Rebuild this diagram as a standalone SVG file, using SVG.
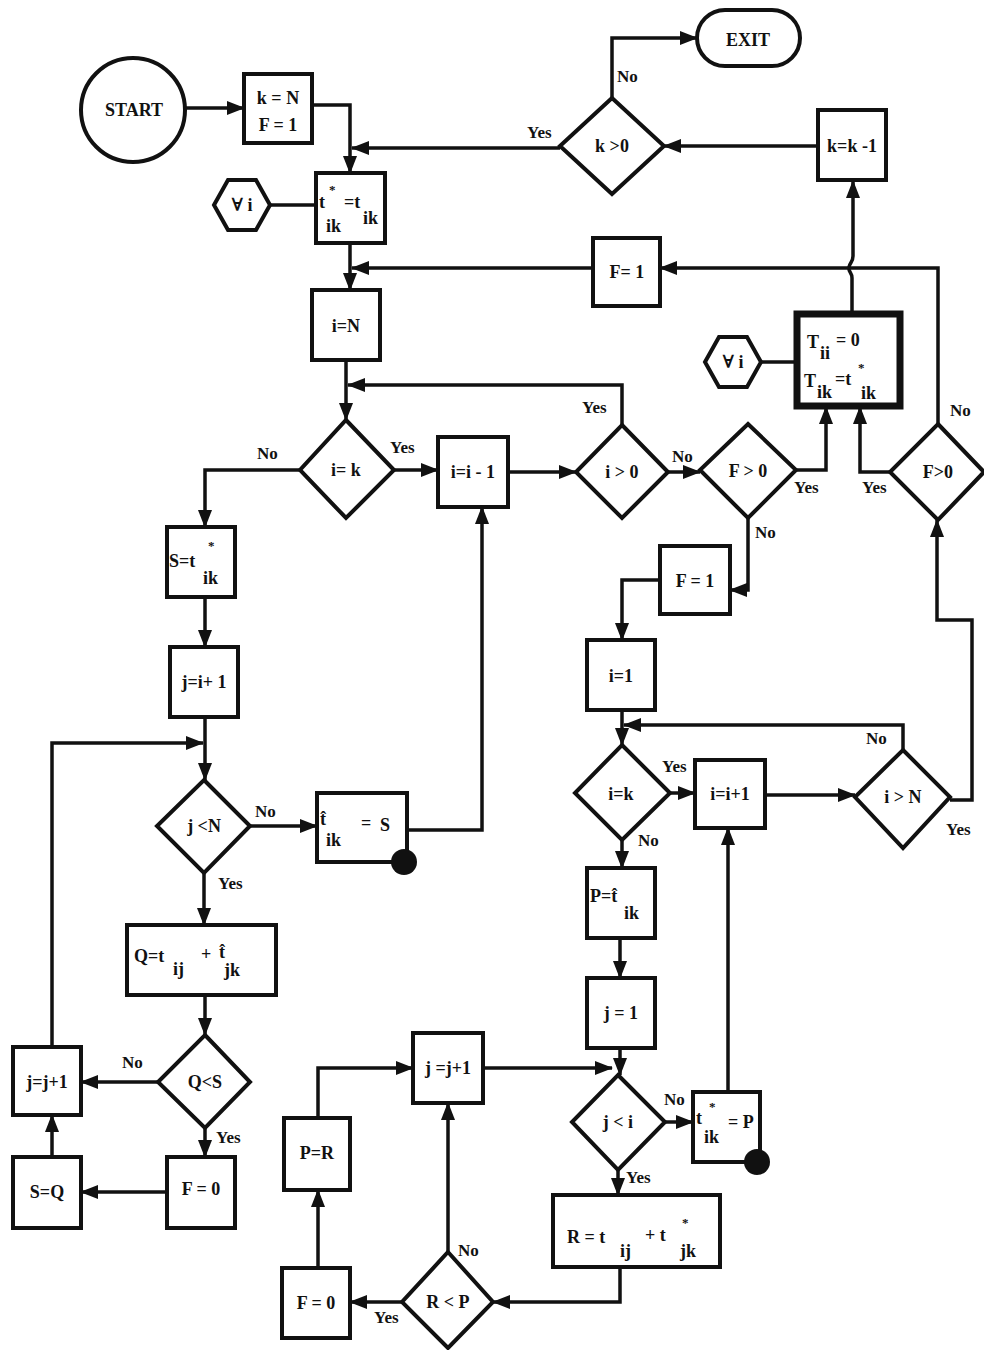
<svg xmlns="http://www.w3.org/2000/svg" width="984" height="1350" viewBox="0 0 984 1350">
<style>
.b{fill:#fff;stroke:#111;stroke-width:4}
.bt{fill:#fff;stroke:#111;stroke-width:7}
.c{fill:none;stroke:#111;stroke-width:3.5}
.h{fill:#fff;stroke:#111;stroke-width:4}
.t{font-family:"Liberation Serif","DejaVu Serif",serif;font-weight:bold;font-size:18px;fill:#111}
.m{text-anchor:middle}
.s{font-size:13px}
.l{font-family:"Liberation Serif","DejaVu Serif",serif;font-weight:bold;font-size:17px;fill:#111}
</style>
<defs>
<marker id="a" markerWidth="18" markerHeight="14" refX="17" refY="7" orient="auto" markerUnits="userSpaceOnUse"><path d="M0,0 L18,7 L0,14 z" fill="#111"/></marker>
</defs>
<rect width="984" height="1350" fill="#fff"/>
<g id="connectors">
<path class="c" d="M185,108 H244" marker-end="url(#a)"/>
<path class="c" d="M312,105 H350 V173" marker-end="url(#a)"/>
<path class="c" d="M560,148 H352" marker-end="url(#a)"/>
<path class="c" d="M612,98 V38 H697" marker-end="url(#a)"/>
<path class="c" d="M818,146 H664" marker-end="url(#a)"/>
<path class="c" d="M852,313 V278 C852,272 848,272 849,267 C850,262 853,262 853,256 V181" marker-end="url(#a)"/>
<path class="c" d="M938,424 V268 H660" marker-end="url(#a)"/>
<path class="c" d="M593,268 H352" marker-end="url(#a)"/>
<path class="c" d="M350,243 V290" marker-end="url(#a)"/>
<path class="c" d="M346,360 V420" marker-end="url(#a)"/>
<path class="c" d="M622,425 V385 H348" marker-end="url(#a)"/>
<path class="c" d="M300,470 H205 V527" marker-end="url(#a)"/>
<path class="c" d="M394,470 H438" marker-end="url(#a)"/>
<path class="c" d="M508,472 H576" marker-end="url(#a)"/>
<path class="c" d="M668,472 H700" marker-end="url(#a)"/>
<path class="c" d="M796,470 H826 V407" marker-end="url(#a)"/>
<path class="c" d="M748,518 V590 H730" marker-end="url(#a)"/>
<path class="c" d="M660,580 H622 V640" marker-end="url(#a)"/>
<path class="c" d="M622,710 V745" marker-end="url(#a)"/>
<path class="c" d="M903,750 V725 H624" marker-end="url(#a)"/>
<path class="c" d="M670,793 H695" marker-end="url(#a)"/>
<path class="c" d="M622,840 V868" marker-end="url(#a)"/>
<path class="c" d="M765,795 H855" marker-end="url(#a)"/>
<path class="c" d="M950,800 H972 V620 H937 V520" marker-end="url(#a)"/>
<path class="c" d="M890,472 H860 V407" marker-end="url(#a)"/>
<path class="c" d="M205,597 V647" marker-end="url(#a)"/>
<path class="c" d="M205,717 V780" marker-end="url(#a)"/>
<path class="c" d="M52,1047 V743 H203" marker-end="url(#a)"/>
<path class="c" d="M250,826 H317" marker-end="url(#a)"/>
<path class="c" d="M407,830 H482 V507" marker-end="url(#a)"/>
<path class="c" d="M204,873 V925" marker-end="url(#a)"/>
<path class="c" d="M205,995 V1035" marker-end="url(#a)"/>
<path class="c" d="M158,1082 H81" marker-end="url(#a)"/>
<path class="c" d="M205,1128 V1157" marker-end="url(#a)"/>
<path class="c" d="M167,1192 H81" marker-end="url(#a)"/>
<path class="c" d="M52,1157 V1115" marker-end="url(#a)"/>
<path class="c" d="M620,938 V978" marker-end="url(#a)"/>
<path class="c" d="M620,1048 V1075" marker-end="url(#a)"/>
<path class="c" d="M483,1068 H612" marker-end="url(#a)"/>
<path class="c" d="M665,1122 H693" marker-end="url(#a)"/>
<path class="c" d="M728,1092 V828" marker-end="url(#a)"/>
<path class="c" d="M618,1170 V1195" marker-end="url(#a)"/>
<path class="c" d="M620,1267 V1302 H493" marker-end="url(#a)"/>
<path class="c" d="M402,1302 H350" marker-end="url(#a)"/>
<path class="c" d="M318,1268 V1190" marker-end="url(#a)"/>
<path class="c" d="M318,1118 V1068 H413" marker-end="url(#a)"/>
<path class="c" d="M448,1252 V1103" marker-end="url(#a)"/>
<path class="c" d="M270,205 H316"/>
<path class="c" d="M761,362 H797"/>
</g>
<g id="labels">
<text class="l" x="527" y="138">Yes</text>
<text class="l" x="617" y="82">No</text>
<text class="l" x="257" y="459">No</text>
<text class="l" x="390" y="453">Yes</text>
<text class="l" x="582" y="413">Yes</text>
<text class="l" x="672" y="462">No</text>
<text class="l" x="794" y="493">Yes</text>
<text class="l" x="755" y="538">No</text>
<text class="l" x="862" y="493">Yes</text>
<text class="l" x="950" y="416">No</text>
<text class="l" x="866" y="744">No</text>
<text class="l" x="946" y="835">Yes</text>
<text class="l" x="662" y="772">Yes</text>
<text class="l" x="638" y="846">No</text>
<text class="l" x="255" y="817">No</text>
<text class="l" x="218" y="889">Yes</text>
<text class="l" x="122" y="1068">No</text>
<text class="l" x="216" y="1143">Yes</text>
<text class="l" x="664" y="1105">No</text>
<text class="l" x="626" y="1183">Yes</text>
<text class="l" x="458" y="1256">No</text>
<text class="l" x="374" y="1323">Yes</text>
</g>
<g id="start"><circle class="b" cx="133" cy="110" r="52"/><text class="t m" x="134" y="116">START</text></g>
<g id="init"><rect class="b" x="244" y="74" width="68" height="69"/><text class="t m" x="278" y="104">k = N</text><text class="t m" x="278" y="131">F = 1</text></g>
<g id="exit"><rect class="b" x="697" y="10" width="103" height="56" rx="28"/><text class="t m" x="748" y="46">EXIT</text></g>
<g id="kgt0"><polygon class="b" points="612,98 664,146 612,194 560,146"/><text class="t m" x="612" y="152">k &gt;0</text></g>
<g id="kdec"><rect class="b" x="818" y="110" width="68" height="70"/><text class="t m" x="852" y="152">k=k -1</text></g>
<g id="hex1"><polygon class="h" points="214,205 228,180 256,180 270,205 256,230 228,230"/><text class="t m" x="242" y="211">∀ i</text></g>
<g id="tstar"><rect class="b" x="316" y="173" width="69" height="70"/><text class="t" x="319" y="208">t</text><text class="t s" x="329" y="194">*</text><text class="t" x="344" y="208">=t</text><text class="t" x="326" y="232">ik</text><text class="t" x="363" y="224">ik</text></g>
<g id="f1a"><rect class="b" x="593" y="238" width="67" height="68"/><text class="t m" x="627" y="278">F= 1</text></g>
<g id="iN"><rect class="b" x="312" y="290" width="68" height="70"/><text class="t m" x="346" y="332">i=N</text></g>
<g id="hex2"><polygon class="h" points="705,362 719,337 747,337 761,362 747,387 719,387"/><text class="t m" x="733" y="368">∀ i</text></g>
<g id="tbox"><rect class="bt" x="797" y="314" width="103" height="92"/><text class="t" x="807" y="348">T</text><text class="t" x="820" y="359">ii</text><text class="t" x="836" y="346">= 0</text><text class="t" x="804" y="387">T</text><text class="t" x="817" y="398">ik</text><text class="t" x="835" y="385">=t</text><text class="t s" x="858" y="372">*</text><text class="t" x="861" y="399">ik</text></g>
<g id="ieqk"><polygon class="b" points="346,420 394,470 346,518 300,470"/><text class="t m" x="346" y="476">i=  k</text></g>
<g id="idec"><rect class="b" x="438" y="437" width="70" height="70"/><text class="t m" x="473" y="478">i=i - 1</text></g>
<g id="igt0"><polygon class="b" points="622,425 668,472 622,518 576,472"/><text class="t m" x="622" y="478">i &gt; 0</text></g>
<g id="fgt0a"><polygon class="b" points="748,424 796,470 748,518 700,470"/><text class="t m" x="748" y="477">F &gt; 0</text></g>
<g id="fgt0b"><polygon class="b" points="938,424 984,472 938,520 890,472"/><text class="t m" x="938" y="478">F&gt;0</text></g>
<g id="sbox"><rect class="b" x="167" y="527" width="68" height="70"/><text class="t" x="169" y="567">S=t</text><text class="t s" x="208" y="550">*</text><text class="t" x="203" y="584">ik</text></g>
<g id="ji1"><rect class="b" x="170" y="647" width="68" height="70"/><text class="t m" x="204" y="688">j=i+ 1</text></g>
<g id="jltN"><polygon class="b" points="204,780 250,826 204,873 157,826"/><text class="t m" x="204" y="832">j &lt;N</text></g>
<g id="that"><rect class="b" x="317" y="793" width="90" height="69"/><text class="t" x="320" y="825">t&#x302;</text><text class="t" x="326" y="846">ik</text><text class="t" x="361" y="829">=</text><text class="t" x="380" y="831">S</text><circle cx="404" cy="862" r="13" fill="#111"/></g>
<g id="qbox"><rect class="b" x="127" y="925" width="149" height="70"/><text class="t" x="134" y="962">Q=t</text><text class="t" x="173" y="975">ij</text><text class="t" x="201" y="960">+</text><text class="t" x="219" y="958">t&#x302;</text><text class="t" x="224" y="976">jk</text></g>
<g id="qltS"><polygon class="b" points="205,1035 250,1082 205,1128 158,1082"/><text class="t m" x="205" y="1088">Q&lt;S</text></g>
<g id="jj1a"><rect class="b" x="13" y="1047" width="68" height="68"/><text class="t m" x="47" y="1088">j=j+1</text></g>
<g id="f0a"><rect class="b" x="167" y="1157" width="68" height="71"/><text class="t m" x="201" y="1195">F = 0</text></g>
<g id="sq"><rect class="b" x="13" y="1157" width="68" height="71"/><text class="t m" x="47" y="1198">S=Q</text></g>
<g id="f1b"><rect class="b" x="660" y="546" width="70" height="68"/><text class="t m" x="695" y="587">F = 1</text></g>
<g id="i1"><rect class="b" x="587" y="640" width="68" height="70"/><text class="t m" x="621" y="682">i=1</text></g>
<g id="ieqk2"><polygon class="b" points="622,745 670,793 622,840 575,793"/><text class="t m" x="621" y="800">i=k</text></g>
<g id="iinc"><rect class="b" x="695" y="760" width="70" height="68"/><text class="t m" x="730" y="800">i=i+1</text></g>
<g id="igtN"><polygon class="b" points="903,750 950,797 903,848 855,797"/><text class="t m" x="903" y="803">i &gt; N</text></g>
<g id="pbox"><rect class="b" x="587" y="868" width="68" height="70"/><text class="t" x="590" y="902">P=t&#x302;</text><text class="t" x="624" y="919">ik</text></g>
<g id="j1"><rect class="b" x="587" y="978" width="68" height="70"/><text class="t m" x="621" y="1019">j  =  1</text></g>
<g id="jlti"><polygon class="b" points="618,1075 665,1122 618,1170 572,1122"/><text class="t m" x="618" y="1128">j &lt; i</text></g>
<g id="tstarP"><rect class="b" x="693" y="1092" width="67" height="70"/><text class="t" x="696" y="1124">t</text><text class="t s" x="709" y="1111">*</text><text class="t" x="704" y="1143">ik</text><text class="t" x="728" y="1128">= P</text><circle cx="757" cy="1162" r="13" fill="#111"/></g>
<g id="rbox"><rect class="b" x="553" y="1195" width="167" height="72"/><text class="t" x="567" y="1243">R  =  t</text><text class="t" x="620" y="1257">ij</text><text class="t" x="645" y="1241">+  t</text><text class="t s" x="682" y="1227">*</text><text class="t" x="680" y="1257">jk</text></g>
<g id="rltP"><polygon class="b" points="448,1252 493,1302 448,1348 402,1302"/><text class="t m" x="448" y="1308">R &lt; P</text></g>
<g id="f0b"><rect class="b" x="282" y="1268" width="68" height="70"/><text class="t m" x="316" y="1309">F  =  0</text></g>
<g id="pr"><rect class="b" x="284" y="1118" width="66" height="72"/><text class="t m" x="317" y="1159">P=R</text></g>
<g id="jj1b"><rect class="b" x="413" y="1033" width="70" height="70"/><text class="t m" x="448" y="1074">j =j+1</text></g>
</svg>
